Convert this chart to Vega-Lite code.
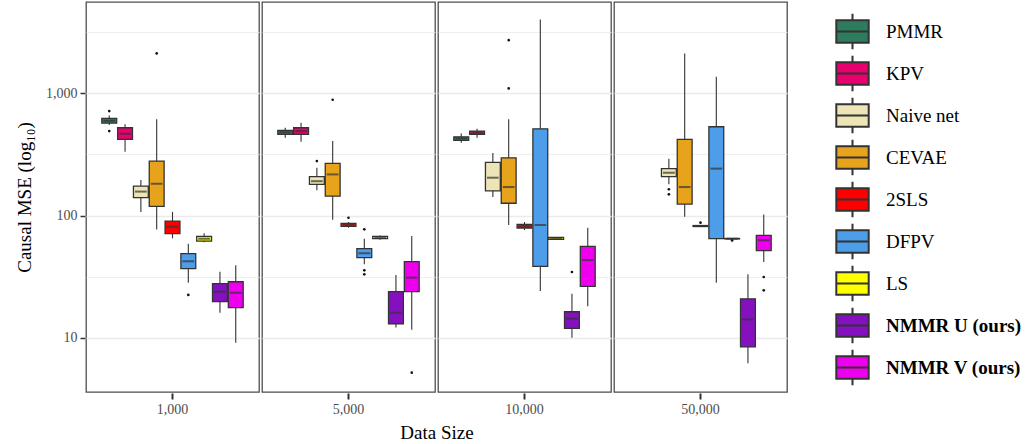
{
  "$schema": "https://vega.github.io/schema/vega-lite/v6.json",
  "padding": {"left": 15, "top": 1, "right": 2, "bottom": 0},
  "config": {
    "font": "Liberation Serif",
    "view": {"stroke": "#4d4d4d", "strokeWidth": 1.3},
    "axis": {"labelFont": "Liberation Serif", "titleFont": "Liberation Serif", "labelFontSize": 14, "labelColor": "#4d4d4d", "titleFontSize": 19, "titleFontWeight": "normal", "titleColor": "#000", "tickColor": "#333", "domain": false},
    "header": {"titleFont": "Liberation Serif", "titleFontSize": 19, "titleFontWeight": "normal", "titleColor": "#000", "labelFont": "Liberation Serif", "labelFontSize": 14, "labelColor": "#4d4d4d"}
  },
  "data": {"values": [
    {"size": 1000, "method": "PMMR", "lo": 551, "q1": 571, "med": 597, "q3": 624, "hi": 660},
    {"size": 1000, "method": "PMMR", "out": 716},
    {"size": 1000, "method": "PMMR", "out": 491},
    {"size": 1000, "method": "KPV", "lo": 333, "q1": 420, "med": 467, "q3": 523, "hi": 558},
    {"size": 1000, "method": "Naive net", "lo": 107, "q1": 140, "med": 157, "q3": 174, "hi": 195},
    {"size": 1000, "method": "CEVAE", "lo": 77, "q1": 119, "med": 182, "q3": 279, "hi": 613},
    {"size": 1000, "method": "CEVAE", "out": 2125},
    {"size": 1000, "method": "2SLS", "lo": 65, "q1": 71, "med": 81, "q3": 90, "hi": 107},
    {"size": 1000, "method": "DFPV", "lo": 28.2, "q1": 36.7, "med": 42.2, "q3": 48.7, "hi": 58.8},
    {"size": 1000, "method": "DFPV", "out": 22.4},
    {"size": 1000, "method": "LS", "lo": 60.4, "q1": 61.8, "med": 64.6, "q3": 67.6, "hi": 71.5},
    {"size": 1000, "method": "NMMR U (ours)", "lo": 16.0, "q1": 19.7, "med": 23.8, "q3": 27.7, "hi": 34.7},
    {"size": 1000, "method": "NMMR V (ours)", "lo": 9.1, "q1": 17.6, "med": 23.3, "q3": 28.7, "hi": 39.1},

    {"size": 5000, "method": "PMMR", "lo": 433, "q1": 462, "med": 480, "q3": 498, "hi": 523},
    {"size": 5000, "method": "KPV", "lo": 402, "q1": 462, "med": 491, "q3": 523, "hi": 575},
    {"size": 5000, "method": "Naive net", "lo": 161, "q1": 180, "med": 191, "q3": 208, "hi": 246},
    {"size": 5000, "method": "Naive net", "out": 279},
    {"size": 5000, "method": "CEVAE", "lo": 92.4, "q1": 144, "med": 217, "q3": 267, "hi": 407},
    {"size": 5000, "method": "CEVAE", "out": 887},
    {"size": 5000, "method": "2SLS", "lo": 79.4, "q1": 81.6, "med": 84.1, "q3": 86.3, "hi": 88.5},
    {"size": 5000, "method": "2SLS", "out": 95.9},
    {"size": 5000, "method": "DFPV", "lo": 39.9, "q1": 45.2, "med": 49.1, "q3": 53.5, "hi": 64.6},
    {"size": 5000, "method": "DFPV", "out": 77.1},
    {"size": 5000, "method": "DFPV", "out": 35.6},
    {"size": 5000, "method": "DFPV", "out": 33.0},
    {"size": 5000, "method": "LS", "lo": 63.2, "q1": 64.6, "med": 66.3, "q3": 67.6, "hi": 68.6},
    {"size": 5000, "method": "NMMR U (ours)", "lo": 12.1, "q1": 13.0, "med": 16.0, "q3": 23.8, "hi": 32.6},
    {"size": 5000, "method": "NMMR V (ours)", "lo": 11.6, "q1": 23.8, "med": 31.0, "q3": 41.9, "hi": 68.0},
    {"size": 5000, "method": "NMMR V (ours)", "out": 5.17},

    {"size": 10000, "method": "PMMR", "lo": 394, "q1": 412, "med": 428, "q3": 441, "hi": 470},
    {"size": 10000, "method": "KPV", "lo": 433, "q1": 462, "med": 476, "q3": 491, "hi": 513},
    {"size": 10000, "method": "Naive net", "lo": 142, "q1": 159, "med": 204, "q3": 272, "hi": 325},
    {"size": 10000, "method": "CEVAE", "lo": 83.6, "q1": 126, "med": 171, "q3": 297, "hi": 613},
    {"size": 10000, "method": "CEVAE", "out": 1099},
    {"size": 10000, "method": "CEVAE", "out": 2729},
    {"size": 10000, "method": "2SLS", "lo": 76, "q1": 79, "med": 82, "q3": 84.7, "hi": 88.5},
    {"size": 10000, "method": "DFPV", "lo": 24.1, "q1": 38.4, "med": 83.6, "q3": 513, "hi": 4034},
    {"size": 10000, "method": "LS", "lo": 63.5, "q1": 63.9, "med": 65.2, "q3": 66.3, "hi": 66.8},
    {"size": 10000, "method": "NMMR U (ours)", "lo": 10.0, "q1": 11.9, "med": 14.3, "q3": 16.3, "hi": 22.9},
    {"size": 10000, "method": "NMMR U (ours)", "out": 34.5},
    {"size": 10000, "method": "NMMR V (ours)", "lo": 18.1, "q1": 26.3, "med": 43.2, "q3": 56.0, "hi": 79.5},

    {"size": 50000, "method": "Naive net", "lo": 180, "q1": 208, "med": 224, "q3": 242, "hi": 292},
    {"size": 50000, "method": "Naive net", "out": 164},
    {"size": 50000, "method": "Naive net", "out": 149},
    {"size": 50000, "method": "CEVAE", "lo": 97.8, "q1": 124, "med": 171, "q3": 420, "hi": 2125},
    {"size": 50000, "method": "2SLS", "lo": 80.5, "q1": 81.3, "med": 82.0, "q3": 82.8, "hi": 83.5},
    {"size": 50000, "method": "2SLS", "out": 87.4},
    {"size": 50000, "method": "DFPV", "lo": 28.2, "q1": 64.6, "med": 242, "q3": 533, "hi": 1368},
    {"size": 50000, "method": "LS", "lo": 64.0, "q1": 64.3, "med": 64.6, "q3": 64.9, "hi": 65.2},
    {"size": 50000, "method": "LS", "out": 62.5},
    {"size": 50000, "method": "NMMR U (ours)", "lo": 6.17, "q1": 8.39, "med": 14.1, "q3": 20.8, "hi": 33.0},
    {"size": 50000, "method": "NMMR V (ours)", "lo": 41.6, "q1": 51.5, "med": 62.7, "q3": 68.9, "hi": 102},
    {"size": 50000, "method": "NMMR V (ours)", "out": 31.4},
    {"size": 50000, "method": "NMMR V (ours)", "out": 24.4}
  ]},
  "facet": {"column": {"field": "size", "type": "ordinal", "header": {"labelOrient": "bottom", "labelExpr": "format(datum.value, ',')", "labelPadding": 3, "title": "Data Size", "titleOrient": "bottom", "titlePadding": -3}}},
  "spacing": 1,
  "spec": {
    "width": 173,
    "height": 390,
    "encoding": {
      "x": {"field": "method", "type": "nominal",
        "scale": {"domain": ["PMMR", "KPV", "Naive net", "CEVAE", "2SLS", "DFPV", "LS", "NMMR U (ours)", "NMMR V (ours)"], "paddingInner": 0.06, "paddingOuter": 2.47},
        "axis": {"title": null, "values": ["2SLS"], "labels": false, "ticks": true, "tickColor": "#333", "tickSize": 6, "tickWidth": 2, "grid": false}}
    },
    "layer": [
      {
        "transform": [{"filter": "isValid(datum.med)"}],
        "mark": {"type": "rule", "color": "#333", "strokeWidth": 1.1},
        "encoding": {
          "y": {"field": "lo", "type": "quantitative", "scale": {"type": "log", "domain": [3.59, 5600], "nice": false, "zero": false},
            "axis": {"title": "Causal MSE (log₁₀)", "titlePadding": 11, "labelPadding": 3, "values": [10, 31.62, 100, 316.2, 1000, 3162],
              "labelExpr": "(datum.value == 10 || datum.value == 100 || datum.value == 1000) ? format(datum.value, ',') : ''",
              "tickSize": 5, "tickWidth": 1.5,
              "tickColor": {"condition": {"test": "datum.value == 10 || datum.value == 100 || datum.value == 1000", "value": "#333"}, "value": "transparent"},
              "gridColor": "#ebebeb",
              "gridWidth": {"condition": {"test": "datum.value == 10 || datum.value == 100 || datum.value == 1000", "value": 1.6}, "value": 0.8}}},
          "y2": {"field": "hi"}
        }
      },
      {
        "transform": [{"filter": "isValid(datum.med)"}],
        "mark": {"type": "bar", "stroke": "#333", "strokeWidth": 1.3},
        "encoding": {
          "y": {"field": "q1", "type": "quantitative"},
          "y2": {"field": "q3"},
          "fill": {"field": "method", "type": "nominal",
            "scale": {"domain": ["PMMR", "KPV", "Naive net", "CEVAE", "2SLS", "DFPV", "LS", "NMMR U (ours)", "NMMR V (ours)"],
              "range": ["#2e7b5e", "#e8006e", "#ede5b5", "#e8a31c", "#ff0000", "#4d9de8", "#ffff00", "#8510c0", "#ee00ee"]},
            "legend": {"title": null, "orient": "right", "offset": 35, "padding": 12,
              "symbolType": "M-1,-0.7H1V0.7H-1Z M-1,0H1 M0,-0.7V-1.1 M0,0.7V1.1",
              "symbolSize": 1050, "symbolStrokeColor": "#333", "symbolStrokeWidth": 2,
              "labelFont": "Liberation Serif", "labelFontSize": 19, "labelColor": "#000", "labelOffset": 16, "rowPadding": -3,
              "encode": {
                "labels": {"update": {"fontWeight": {"signal": "indexof(datum.label, 'ours') >= 0 ? 'bold' : 'normal'"}}},
                "symbols": {"update": {"stroke": {"value": "#333"}, "strokeWidth": {"value": 2}}}
              }}
          }
        }
      },
      {
        "transform": [{"filter": "isValid(datum.med)"}],
        "mark": {"type": "tick", "color": "#333", "thickness": 2, "size": 11.7, "orient": "horizontal"},
        "encoding": {"y": {"field": "med", "type": "quantitative"}}
      },
      {
        "transform": [{"filter": "isValid(datum.out)"}],
        "mark": {"type": "point", "filled": true, "color": "#111", "size": 7, "opacity": 1},
        "encoding": {"y": {"field": "out", "type": "quantitative"}}
      }
    ]
  }
}
